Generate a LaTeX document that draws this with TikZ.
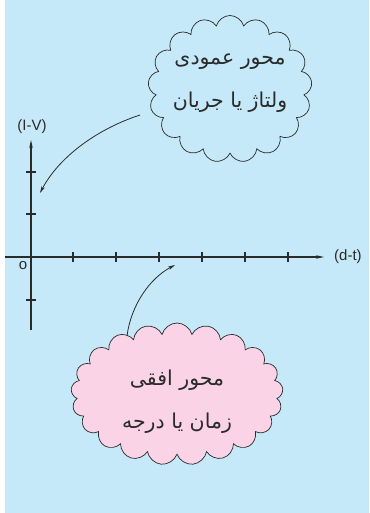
\documentclass[tikz,border=0pt]{standalone}
\usepackage{fontspec}
\usetikzlibrary{shapes.symbols,arrows.meta}
\TeXXeTstate=1
\newfontfamily\arabicfont[Script=Arabic]{DejaVu Sans}
\setsansfont{Liberation Sans}
\definecolor{bgblue}{HTML}{C6E9F9}
\definecolor{cloudpink}{HTML}{FAD4E6}
\definecolor{ink}{HTML}{2A2A2A}
\begin{document}
\begin{tikzpicture}[x=1pt,y=-1pt,
  axis/.style={draw=ink,line width=1.1pt},
  tick/.style={draw=ink,line width=1.1pt},
  arr/.style={draw=ink,line width=0.8pt,-{Stealth[length=7pt,width=3.5pt]}},
  lbl/.style={font=\sffamily\fontsize{15}{17}\selectfont,text=ink,inner sep=0pt},
  bubble/.style={cloud,cloud ignores aspect,draw=ink,line width=0.7pt,inner sep=0pt},
  btext/.style={align=center,font=\arabicfont\fontsize{20.5}{43}\selectfont,text=ink,inner sep=0pt}]
\useasboundingbox (0,0) rectangle (369,513);
\fill[bgblue] (5,0) rectangle (369,513);
% axes
\coordinate (xstart) at (5,257);
\coordinate (xend) at (324,257);
\coordinate (ybot) at (31,330);
\coordinate (ytop) at (31,140);
\draw[axis,-{Stealth[length=8pt,width=3.5pt]}] (xstart) -- (xend);
\draw[axis,-{Stealth[length=8pt,width=3.5pt]}] (ybot) -- (ytop);
\foreach \x in {73,116,159,202,245,288} \draw[tick] (\x,252) -- (\x,262);
\foreach \y in {172,214,300} \draw[tick] (26,\y) -- (36,\y);
\node[lbl] (ylab) at (32,127) {(I-V)};
\node[lbl,anchor=west] (xlab) at (334,257) {(d-t)};
\node[lbl] (orig) at (23,266) {o};
% clouds
\node[bubble,cloud puffs=17,minimum width=164pt,minimum height=147pt,fill=bgblue] (vcloud) at (230,89) {};
\node[btext] (vtext) at (230,83) {\beginR محور عمودی\endR\\\beginR ولتاژ یا جریان\endR};
\node[bubble,cloud puffs=21,minimum width=212pt,minimum height=142pt,fill=cloudpink] (hcloud) at (177,394) {};
\node[btext] (htext) at (177,402) {\beginR محور افقی\endR\\\beginR زمان یا درجه\endR};
% connectors
\coordinate (a1s) at (140,115);
\coordinate (a1e) at (40,193);
\coordinate (a2s) at (127,336);
\coordinate (a2e) at (175,265);
\draw[arr] (a1s) .. controls (100,128) and (60,155) .. (a1e);
\draw[arr] (a2s) .. controls (131,305) and (150,278) .. (a2e);
\end{tikzpicture}
\end{document}
